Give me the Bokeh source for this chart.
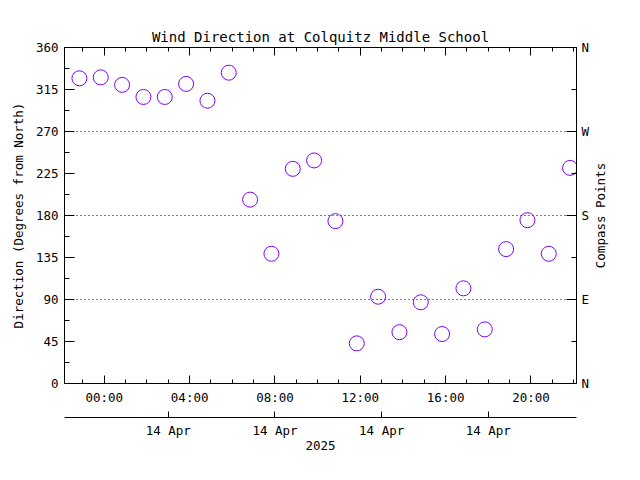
import math
import pandas as pd
from bokeh.plotting import figure
from bokeh.models import (Range1d, LinearAxis, DatetimeAxis, FixedTicker, Label,
                          DatetimeTickFormatter, ColumnDataSource, Grid, CustomLabelingPolicy)
from bokeh.embed import file_html
from bokeh.resources import INLINE

# ---- data ----
times = ["2025-04-13 22:50", "2025-04-13 23:50", "2025-04-14 00:50", "2025-04-14 01:50",
         "2025-04-14 02:50", "2025-04-14 03:50", "2025-04-14 04:50", "2025-04-14 05:50",
         "2025-04-14 06:50", "2025-04-14 07:50", "2025-04-14 08:50", "2025-04-14 09:50",
         "2025-04-14 10:50", "2025-04-14 11:50", "2025-04-14 12:50", "2025-04-14 13:50",
         "2025-04-14 14:50", "2025-04-14 15:50", "2025-04-14 16:50", "2025-04-14 17:50",
         "2025-04-14 18:50", "2025-04-14 19:50", "2025-04-14 20:50", "2025-04-14 21:50"]
direction = [327, 328, 320, 307, 307, 321, 303, 333, 197, 139, 230, 239,
             174, 43, 93, 55, 87, 53, 102, 58, 144, 175, 139, 231]

x_window = ["2025-04-13 22:08", "2025-04-14 22:08"]
hour_ticks = ["2025-04-14 00:00", "2025-04-14 04:00", "2025-04-14 08:00",
              "2025-04-14 12:00", "2025-04-14 16:00", "2025-04-14 20:00"]
hour_labels = ["00:00", "04:00", "08:00", "12:00", "16:00", "20:00"]
hour_minor = ["2025-04-13 23:00"] + ["2025-04-14 %02d:00" % h for h in range(0, 23)]
date_ticks = ["2025-04-14 03:00", "2025-04-14 08:00", "2025-04-14 13:00", "2025-04-14 18:00"]
date_labels = ["14 Apr", "14 Apr", "14 Apr", "14 Apr"]
year_label = "2025"
y_ticks = [0, 45, 90, 135, 180, 225, 270, 315, 360]
y_minor = [22.5, 67.5, 112.5, 157.5, 202.5, 247.5, 292.5, 337.5]
compass_ticks = [0, 90, 180, 270, 360]
compass_minor = [45, 135, 225, 315]
compass_labels = ["N", "E", "S", "W", "N"]
grid_values = [90, 180, 270]

title = "Wind Direction at Colquitz Middle School"
y_label = "Direction (Degrees from North)"
y2_label = "Compass Points"


def to_ms(lst):
    idx = pd.to_datetime(pd.Series(lst))
    return [int((t - pd.Timestamp("1970-01-01")) / pd.Timedelta(milliseconds=1)) for t in idx]


t_ms = to_ms(times)
win = to_ms(x_window)
hour_ms = to_ms(hour_ticks)
minor_ms = to_ms(hour_minor)
date_ms = to_ms(date_ticks)

FONT = "DejaVu Sans Mono"
FS = "12.5px"
FRAME_W, FRAME_H = 512, 336

p = figure(width=624, height=464,
           x_axis_type=None, y_axis_type=None,
           x_range=Range1d(win[0], win[1]), y_range=Range1d(0, 360),
           output_backend="svg", toolbar_location=None,
           min_border_left=64, min_border_right=48,
           min_border_top=47, min_border_bottom=81,
           title=title)
p.outline_line_color = None
p.background_fill_color = "white"
p.border_fill_color = "white"

p.title.text_font = FONT
p.title.text_font_size = "14px"
p.title.text_font_style = "normal"
p.title.align = "center"
p.title.text_color = "black"
p.title.standoff = 6


def style(ax, tin, tmin):
    ax.axis_line_color = "black"
    ax.axis_line_width = 1
    ax.major_tick_line_color = "black"
    ax.minor_tick_line_color = "black"
    ax.major_tick_in = tin
    ax.major_tick_out = 0
    ax.minor_tick_in = tmin
    ax.minor_tick_out = 0
    ax.major_label_text_font = FONT
    ax.major_label_text_font_size = FS
    ax.major_label_text_color = "black"
    ax.axis_label_text_font = FONT
    ax.axis_label_text_font_size = FS
    ax.axis_label_text_font_style = "normal"
    ax.axis_label_text_color = "black"


hour_fmt = DatetimeTickFormatter(microseconds="%H:%M", milliseconds="%H:%M", seconds="%H:%M",
                                 minsec="%H:%M", minutes="%H:%M", hourmin="%H:%M", hours="%H:%M",
                                 days="%H:%M", months="%H:%M", years="%H:%M")
date_fmt = DatetimeTickFormatter(microseconds="%d %b", milliseconds="%d %b", seconds="%d %b",
                                 minsec="%d %b", minutes="%d %b", hourmin="%d %b", hours="%d %b",
                                 days="%d %b", months="%d %b", years="%d %b")

# bottom hour axis
xb = DatetimeAxis(ticker=FixedTicker(ticks=hour_ms, minor_ticks=minor_ms), formatter=hour_fmt,
                  major_label_overrides={k: v for k, v in zip(hour_ms, hour_labels)})
style(xb, 8, 4)
xb.major_label_standoff = 6
p.add_layout(xb, "below")

# spacer between the two bottom axes: one invisible outward tick, labels suppressed
xs = DatetimeAxis(ticker=FixedTicker(ticks=[hour_ms[2]], minor_ticks=[]), formatter=hour_fmt,
                  major_label_policy=CustomLabelingPolicy(code="return new Set()"))
style(xs, 0, 0)
xs.axis_line_color = None
xs.major_tick_line_color = None
xs.major_tick_out = 6
xs.major_label_standoff = 0
xs.major_label_text_font_size = "1px"
p.add_layout(xs, "below")

# bottom date axis
xd = DatetimeAxis(ticker=FixedTicker(ticks=date_ms, minor_ticks=[]), formatter=date_fmt,
                  major_label_overrides={k: v for k, v in zip(date_ms, date_labels)},
                  axis_label=year_label)
style(xd, 6, 0)
xd.major_label_standoff = 5
xd.axis_label_standoff = 0
p.add_layout(xd, "below")

# top axis: ticks only (minor hourly and 4-hourly longer), no labels
xt1 = DatetimeAxis(ticker=FixedTicker(ticks=[], minor_ticks=minor_ms), formatter=hour_fmt)
style(xt1, 0, 4)
xt1.major_label_standoff = 0
p.add_layout(xt1, "above")
xt2 = DatetimeAxis(ticker=FixedTicker(ticks=[], minor_ticks=hour_ms), formatter=hour_fmt)
style(xt2, 0, 8)
xt2.major_label_standoff = 0
p.add_layout(xt2, "above")

# left axis
yl = LinearAxis(ticker=FixedTicker(ticks=y_ticks, minor_ticks=y_minor), axis_label=y_label)
style(yl, 10, 5)
yl.major_label_standoff = 6
yl.axis_label_standoff = 7
p.add_layout(yl, "left")

# right compass axis
yr = LinearAxis(ticker=FixedTicker(ticks=compass_ticks, minor_ticks=compass_minor),
                major_label_overrides={k: v for k, v in zip(compass_ticks, compass_labels)})
style(yr, 10, 5)
yr.major_label_standoff = 5
p.add_layout(yr, "right")

# right-side axis title, reading bottom to top, centred on the frame height
p.add_layout(Label(x=8, y=FRAME_H / 2, x_units="screen", y_units="screen",
                   text=y2_label, angle=math.pi / 2, text_align="center",
                   text_baseline="middle", text_font=FONT, text_font_size=FS,
                   text_color="black"), "right")

# dotted grid lines
g = Grid(dimension=1, ticker=FixedTicker(ticks=grid_values), grid_line_color="black",
         grid_line_dash="1 3", grid_line_width=1)
p.add_layout(g)

src = ColumnDataSource(dict(t=t_ms, d=direction))
p.scatter(x="t", y="d", source=src, marker="circle", size=15, fill_color=None,
          line_color="#8000ff", line_width=1)

open("out.html", "w").write(file_html(p, INLINE))
